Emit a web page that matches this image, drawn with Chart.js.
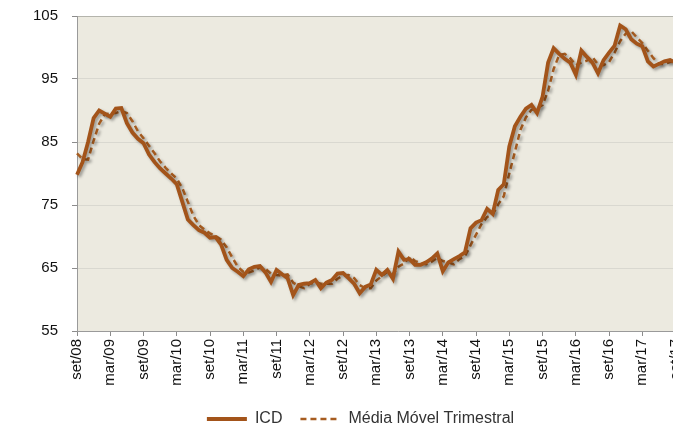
<!DOCTYPE html>
<html lang="pt">
<head>
    <meta charset="UTF-8">
    <title>ICD</title>
    <script src="https://cdn.jsdelivr.net/npm/chart.js"></script>
    <style>
        html, body {
            margin: 0;
            padding: 0;
            background: #ffffff;
            overflow: hidden;
        }
        .chart-container {
            position: absolute;
            left: 0;
            top: 0;
            width: 730px;
            height: 437px;
        }
    </style>
</head>
<body>

<div class="chart-container">
    <canvas id="icdChart" width="730" height="437"></canvas>
</div>

<script>
    // categorias: meses de set/08 ate mai/18 (o grafico original esta cortado a direita)
    const meses = ['jan', 'fev', 'mar', 'abr', 'mai', 'jun', 'jul', 'ago', 'set', 'out', 'nov', 'dez'];
    const mesInicial = 8;     // set
    const anoInicial = 2008;
    const totalMeses = 117;

    const labels = [];
    for (let i = 0; i < totalMeses; i++) {
        const m = (mesInicial + i) % 12;
        const a = anoInicial + Math.floor((mesInicial + i) / 12);
        labels.push(meses[m] + '/' + String(a % 100).padStart(2, '0'));
    }

    // ICD mensal
    const icd = [
        79.8, 81.8, 85.0, 88.8, 90.0, 89.5, 89.0, 90.3, 90.4, 88.0, 86.5, 85.5,
        84.8, 83.0, 81.8, 80.8, 80.0, 79.2, 78.3, 75.5, 72.7, 71.8, 71.0, 70.6,
        69.8, 69.9, 68.7, 66.3, 65.0, 64.4, 63.7, 64.8, 65.2, 65.3, 64.3, 62.8,
        64.7, 64.0, 63.4, 60.7, 62.3, 62.5, 62.6, 63.1, 61.8, 62.7, 63.1, 64.1,
        64.2, 63.4, 62.5, 61.0, 62.0, 62.4, 64.7, 63.9, 64.7, 63.3, 67.6, 66.3,
        66.4, 65.5, 65.5, 65.9, 66.5, 67.3, 64.5, 65.9, 66.4, 66.9, 67.5, 71.3,
        72.2, 72.6, 74.4, 73.6, 77.4, 78.3, 84.3, 87.5, 89.0, 90.3, 90.9, 89.6,
        92.2, 97.6, 99.9, 99.0, 98.2, 97.6, 95.7, 99.5, 98.5, 97.6, 95.9, 98.0,
        99.2, 100.3, 103.5, 102.9, 101.3, 100.6, 100.2, 97.8, 97.0, 97.4, 97.8, 98.0,
        97.6
    ];

    // Media movel trimestral
    const mediaMovel = [
        83.2, 82.3, 82.2, 85.2, 87.9, 89.4, 89.5, 89.6, 89.9, 89.6, 88.3, 86.7,
        85.6, 84.4, 83.2, 81.9, 80.9, 80.0, 79.2, 77.7, 75.5, 73.3, 71.8, 71.1,
        70.5, 70.1, 69.5, 68.3, 66.7, 65.2, 64.4, 64.3, 64.6, 65.1, 64.9, 64.1,
        63.9, 63.8, 64.0, 62.7, 62.1, 61.8, 62.5, 62.7, 62.5, 62.5, 62.5, 63.3,
        63.8, 63.9, 63.4, 62.3, 61.8, 61.8, 63.0, 63.7, 64.4, 64.0, 65.2, 65.7,
        66.8, 66.1, 65.8, 65.6, 66.0, 66.6, 66.1, 65.9, 65.6, 66.4, 66.9, 68.6,
        70.3, 72.0, 73.1, 73.5, 75.1, 76.4, 80.0, 83.4, 86.9, 88.9, 90.1, 90.3,
        90.9, 93.1, 96.6, 98.8, 99.0, 98.3, 97.2, 97.6, 97.9, 98.5, 97.3, 97.2,
        97.7, 99.2, 101.0, 102.2, 102.6, 101.6, 100.7, 99.5, 98.3, 97.4, 97.4, 97.7,
        97.8
    ];

    // fundo da area do grafico
    const plotBackground = {
        id: 'plotBackground',
        beforeDraw(chart) {
            const {ctx, chartArea: a} = chart;
            ctx.save();
            ctx.fillStyle = '#ECEAE0';
            ctx.fillRect(a.left, a.top, a.right - a.left, a.bottom - a.top);
            ctx.restore();
        }
    };

    // sombra das linhas, como no Excel
    const lineShadow = {
        id: 'lineShadow',
        beforeDatasetsDraw(chart) {
            const ctx = chart.ctx;
            ctx.save();
            ctx.shadowColor = 'rgba(0, 0, 0, 0.35)';
            ctx.shadowBlur = 3;
            ctx.shadowOffsetX = 2;
            ctx.shadowOffsetY = 2;
        },
        afterDatasetsDraw(chart) {
            chart.ctx.restore();
        }
    };

    const fonte = '"Liberation Sans", Arial, sans-serif';

    new Chart(document.getElementById('icdChart').getContext('2d'), {
        type: 'line',
        data: {
            labels: labels,
            datasets: [{
                label: 'ICD',
                data: icd,
                borderColor: '#A3541A',
                borderWidth: 3.8,
                pointRadius: 0,
                tension: 0,
                fill: false
            }, {
                label: 'Média Móvel Trimestral',
                data: mediaMovel,
                borderColor: '#A65C20',
                borderWidth: 2.5,
                borderDash: [6, 4],
                pointRadius: 0,
                tension: 0,
                fill: false
            }]
        },
        options: {
            responsive: false,
            animation: false,
            devicePixelRatio: 1,
            layout: {
                padding: { top: 16, right: 9, left: 0, bottom: 0 }
            },
            plugins: {
                tooltip: { enabled: false },
                legend: {
                    position: 'bottom',
                    labels: {
                        usePointStyle: true,
                        pointStyle: 'line',
                        pointStyleWidth: 40,
                        padding: 18,
                        color: '#333333',
                        font: { family: fonte, size: 16 },
                        // o estilo de ponto nao traz o tracejado da linha, entao copia do dataset
                        generateLabels: chart => {
                            const items = Chart.defaults.plugins.legend.labels.generateLabels(chart);
                            items.forEach(it => {
                                const ds = chart.data.datasets[it.datasetIndex];
                                it.lineDash = ds.borderDash || [];
                                it.lineWidth = ds.borderWidth;
                                it.strokeStyle = ds.borderColor;
                            });
                            return items;
                        }
                    }
                }
            },
            scales: {
                x: {
                    offset: false,
                    afterFit: s => { s.height = 62; },
                    grid: {
                        drawOnChartArea: false,
                        drawTicks: true,
                        tickLength: 5,
                        tickColor: '#8c8c8c'
                    },
                    border: { display: true, color: '#9a9a9a', width: 1 },
                    ticks: {
                        autoSkip: false,
                        minRotation: 90,
                        maxRotation: 90,
                        padding: 3,
                        color: '#111111',
                        font: { family: fonte, size: 15 },
                        callback: function (val, idx) {
                            return idx % 6 === 0 ? labels[idx] : null;
                        }
                    }
                },
                y: {
                    min: 55,
                    max: 105,
                    afterFit: s => {
                        s.width = 77;
                        s.paddingTop = 0;
                        s.paddingBottom = 0;
                    },
                    grid: {
                        color: ctx => ctx.tick && ctx.tick.value === 105 ? '#b4b4ac' : '#d9d8d0',
                        tickLength: 5,
                        tickColor: '#8c8c8c'
                    },
                    border: { display: true, color: '#9a9a9a', width: 1 },
                    ticks: {
                        stepSize: 10,
                        padding: 14,
                        color: '#111111',
                        font: { family: fonte, size: 15 }
                    }
                }
            }
        },
        plugins: [plotBackground, lineShadow]
    });
</script>
</body>
</html>
